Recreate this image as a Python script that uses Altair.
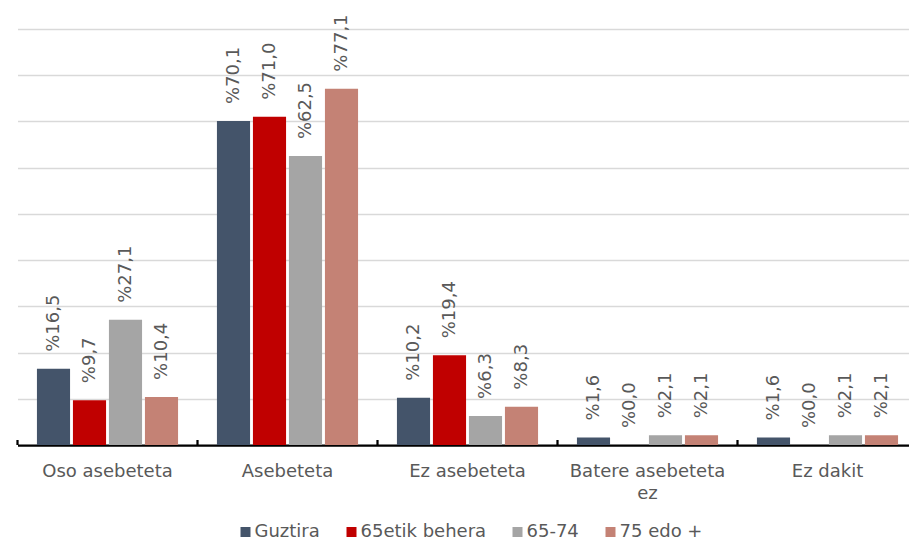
import altair as alt
import pandas as pd

categories = ["Oso asebeteta", "Asebeteta", "Ez asebeteta", "Batere asebeteta ez", "Ez dakit"]
series = ["Guztira", "65etik behera", "65-74", "75 edo +"]
guztira = [16.5, 70.1, 10.2, 1.6, 1.6]
azpitik65 = [9.7, 71.0, 19.4, 0.0, 0.0]
tarte65_74 = [27.1, 62.5, 6.3, 2.1, 2.1]
gora75 = [10.4, 77.1, 8.3, 2.1, 2.1]
colors = ["#44546A", "#C00000", "#A5A5A5", "#C48275"]

rows = []
for s, vals in zip(series, [guztira, azpitik65, tarte65_74, gora75]):
    for c, v in zip(categories, vals):
        rows.append({"cat": c, "series": s, "value": v})
df = pd.DataFrame(rows)
ticks_df = pd.DataFrame({"cat": categories})

FONT = "DejaVu Sans"
GREY = "#595959"

x_scale = alt.Scale(paddingInner=0, paddingOuter=0, range=[0, 900])
x_enc = alt.X(
    "cat:N",
    sort=categories,
    scale=x_scale,
    axis=alt.Axis(
        title=None, labelAngle=0, ticks=False, tickSize=0,
        domainColor="black", domainWidth=2.25,
        labelColor=GREY, labelFont=FONT, labelFontSize=18,
        labelPadding=17, labelLineHeight=22, labelLimit=300,
        labelExpr="datum.label == 'Batere asebeteta ez' ? ['Batere asebeteta', 'ez'] : datum.label",
    ),
)
xo_enc = alt.XOffset("series:N", sort=series, scale=alt.Scale(paddingInner=0.08, paddingOuter=0.54))
y_enc = alt.Y(
    "value:Q",
    scale=alt.Scale(domain=[0, 90], nice=False),
    axis=alt.Axis(
        title=None, labels=False, ticks=False, domain=False,
        values=list(range(0, 100, 10)), gridColor="#D9D9D9", gridWidth=1.5,
    ),
)
color_enc = alt.Color(
    "series:N",
    sort=series,
    scale=alt.Scale(domain=series, range=colors),
    legend=alt.Legend(
        title=None, orient="none", legendX=219, legendY=494, direction="horizontal",
        columns=4, symbolType="square", symbolSize=100, symbolStrokeWidth=0,
        labelFont=FONT, labelFontSize=18, labelColor=GREY, labelOffset=0,
        columnPadding=22, padding=0,
    ),
)

base = alt.Chart(df)
bars = base.mark_bar().encode(x=x_enc, xOffset=xo_enc, y=y_enc, color=color_enc)
labels = base.transform_calculate(
    label="'%' + replace(format(datum.value, '.1f'), '.', ',')"
).mark_text(
    angle=270, align="left", baseline="middle", dx=17,
    font=FONT, fontSize=18, color=GREY,
).encode(x=x_enc, xOffset=xo_enc, y=y_enc, text="label:N")
tick_marks = alt.Chart(ticks_df).mark_rule(color="black", strokeWidth=2.25).encode(
    x=alt.X("cat:N", sort=categories, bandPosition=0, scale=x_scale),
    y=alt.value(411),
    y2=alt.value(416),
)

chart = alt.layer(bars, labels, tick_marks).properties(
    width=891, height=416,
    autosize="none",
    padding={"left": 9.5, "top": 21, "right": 0.5, "bottom": 97},
).configure_view(stroke=None)

chart.save("out.html", embed_options={"renderer": "svg", "actions": False})
